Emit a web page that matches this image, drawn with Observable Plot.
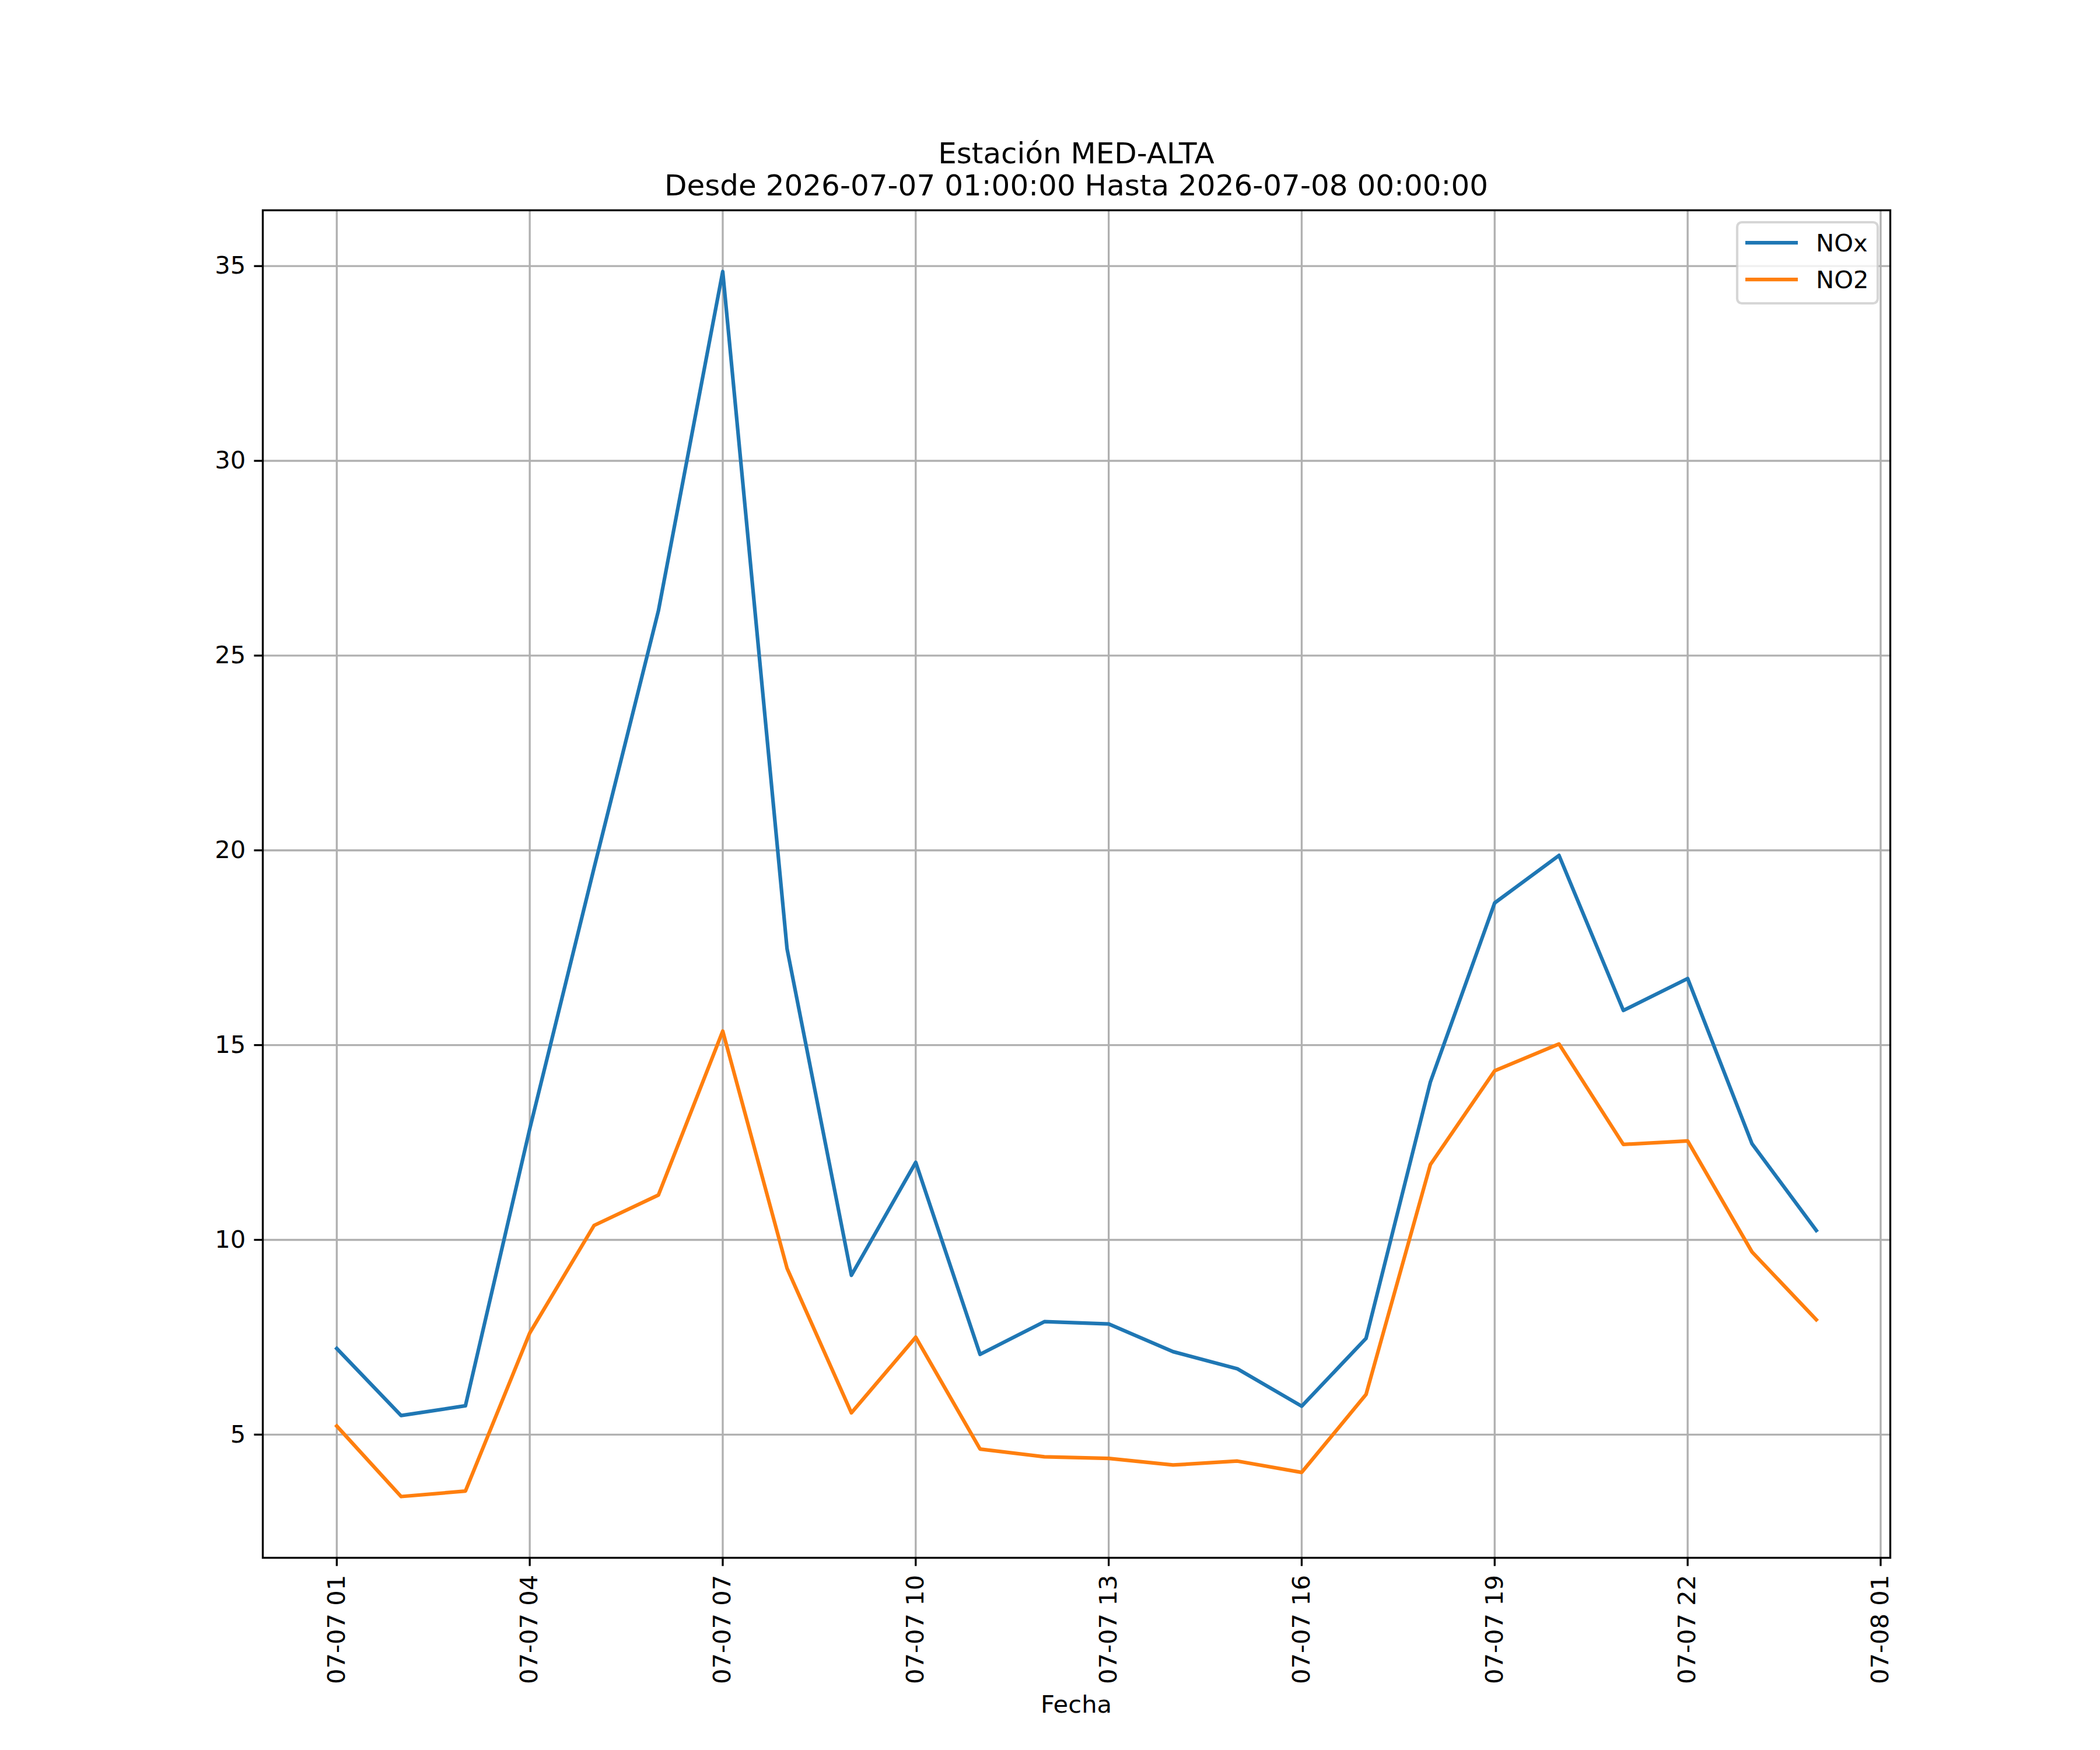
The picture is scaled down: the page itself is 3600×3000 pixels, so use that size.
<!DOCTYPE html>
<html>
<head>
<meta charset="utf-8">
<script src="https://cdn.jsdelivr.net/npm/d3@7"></script>
<script src="https://cdn.jsdelivr.net/npm/@observablehq/plot@0.6"></script>
<style>
  html, body { margin: 0; padding: 0; background: white; }
  #chart svg { display: block; }
</style>
</head>
<body>
<div id="chart"></div>
<script>
// ---- data ----
const hours = [1,2,3,4,5,6,7,8,9,10,11,12,13,14,15,16,17,18,19,20,21,22,23,24];
const noxValues = [7.21, 5.49, 5.74, 12.85, 19.55, 26.15, 34.86, 17.47, 9.09, 11.99, 7.06, 7.90,
                   7.84, 7.13, 6.69, 5.73, 7.47, 14.05, 18.65, 19.87, 15.89, 16.71, 12.47, 10.24];
const no2Values = [5.22, 3.41, 3.55, 7.61, 10.37, 11.15, 15.36, 9.27, 5.56, 7.50, 4.63, 4.43,
                   4.39, 4.22, 4.32, 4.03, 6.03, 11.93, 14.34, 15.03, 12.45, 12.54, 9.69, 7.95];
const seriesNames = ["NOx", "NO2"];
const seriesColors = ["#1f77b4", "#ff7f0e"];
const xTickHours = [1, 4, 7, 10, 13, 16, 19, 22, 25];
const yTicks = [5, 10, 15, 20, 25, 30, 35];
const titleLines = ["Estación MED-ALTA", "Desde 2026-07-07 01:00:00 Hasta 2026-07-08 00:00:00"];
const xLabel = "Fecha";

// ---- build table ----
const toDate = h => new Date(Date.UTC(2026, 6, 7, h));
const dates = hours.map(toDate);
const rows = [];
[noxValues, no2Values].forEach((vals, si) => {
  vals.forEach((v, i) => rows.push({date: dates[i], value: v, series: seriesNames[si]}));
});
const xTicks = xTickHours.map(toDate);

// matplotlib-like 5% margins
const [t0, t1] = d3.extent(dates);
const tp = (t1 - t0) * 0.05;
const [v0, v1] = d3.extent(rows, d => d.value);
const vp = (v1 - v0) * 0.05;

const W = 3600, H = 3000;
const mL = 450, mR = 360, mT = 360, mB = 330;
const LW = 6.25, GW = 3.33, TK = 14.58;
const FS = 41.67;

const plot = Plot.plot({
  width: W,
  height: H,
  marginLeft: mL,
  marginRight: mR,
  marginTop: mT,
  marginBottom: mB,
  style: {fontFamily: "DejaVu Sans", fontSize: FS + "px", color: "black", background: "white", overflow: "visible"},
  x: {type: "utc", domain: [new Date(+t0 - tp), new Date(+t1 + tp)]},
  y: {type: "linear", domain: [v0 - vp, v1 + vp]},
  marks: [
    Plot.gridX(xTicks, {stroke: "#b0b0b0", strokeOpacity: 1, strokeWidth: GW}),
    Plot.gridY(yTicks, {stroke: "#b0b0b0", strokeOpacity: 1, strokeWidth: GW}),
    Plot.lineY(rows.filter(d => d.series === "NOx"), {x: "date", y: "value", stroke: seriesColors[0], strokeWidth: LW, strokeLinejoin: "round", strokeLinecap: "square"}),
    Plot.lineY(rows.filter(d => d.series === "NO2"), {x: "date", y: "value", stroke: seriesColors[1], strokeWidth: LW, strokeLinejoin: "round", strokeLinecap: "square"}),
    Plot.axisX(xTicks, {tickFormat: d3.utcFormat("%m-%d %H"), tickRotate: -90, tickSize: TK, tickPadding: TK, strokeWidth: GW, label: null, fontSize: FS}),
    Plot.axisY(yTicks, {tickFormat: d => String(d), tickSize: TK, tickPadding: TK, strokeWidth: GW, label: null, fontSize: FS}),
    Plot.frame({stroke: "black", strokeWidth: GW})
  ]
});

document.getElementById("chart").appendChild(plot);

// ---- title, axis label, legend (layout only) ----
const svg = d3.select(plot);
const cx = (mL + (W - mR)) / 2;
const titleG = svg.append("g").attr("font-family", "DejaVu Sans").attr("font-size", 50).attr("fill", "black").attr("text-anchor", "middle");
titleG.append("text").attr("x", cx).attr("y", 280).text(titleLines[0]);
titleG.append("text").attr("x", cx).attr("y", 335).text(titleLines[1]);

svg.append("text")
  .attr("x", cx).attr("y", 2936)
  .attr("font-family", "DejaVu Sans").attr("font-size", FS)
  .attr("text-anchor", "middle").attr("fill", "black")
  .text(xLabel);

const lg = svg.append("g").attr("text-anchor", "start");
lg.append("rect")
  .attr("x", 2978).attr("y", 381).attr("width", 241).attr("height", 139)
  .attr("rx", 8).attr("ry", 8)
  .attr("fill", "white").attr("fill-opacity", 0.8)
  .attr("stroke", "#cccccc").attr("stroke-opacity", 0.8).attr("stroke-width", 4.17);
seriesNames.forEach((name, i) => {
  const yl = 416 + i * 63;
  lg.append("line").attr("x1", 2992).attr("x2", 3082).attr("y1", yl).attr("y2", yl)
    .attr("stroke", seriesColors[i]).attr("stroke-width", LW);
  lg.append("text").attr("x", 3113).attr("y", yl + 14.5)
    .attr("text-anchor", "start")
    .attr("font-family", "DejaVu Sans").attr("font-size", FS).attr("fill", "black")
    .text(name);
});
</script>
</body>
</html>
